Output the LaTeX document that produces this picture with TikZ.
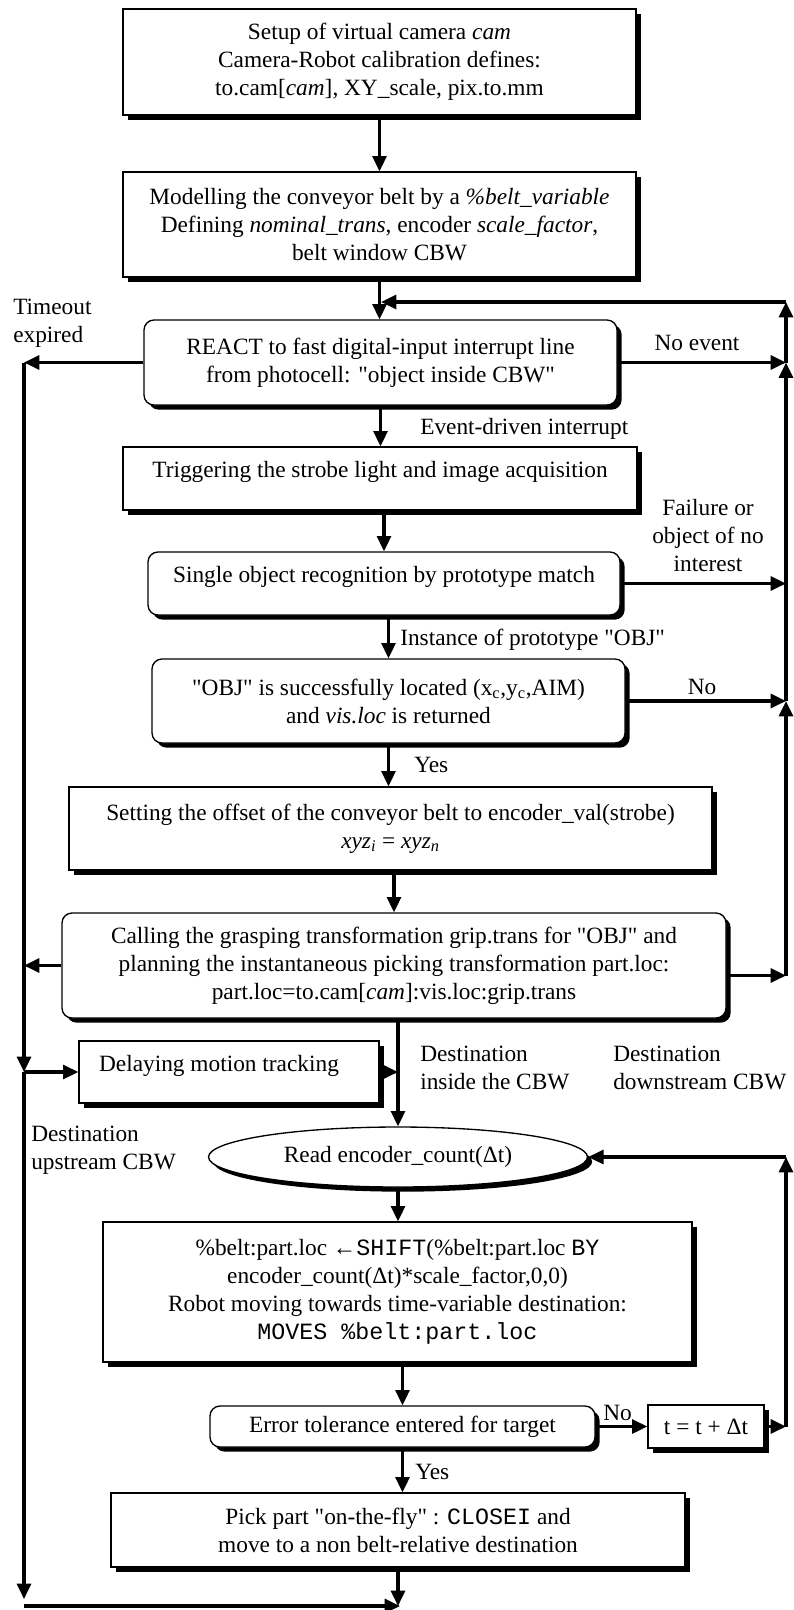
\documentclass[tikz,border=0pt]{standalone}
\usepackage{fontspec}
\setmainfont{Liberation Serif}[Ligatures=TeXOff]
\setmonofont{Liberation Mono}
\usetikzlibrary{arrows.meta,shapes.geometric,shadows}
\tikzset{
  flowbox/.style={draw, fill=white, line width=1pt, align=center, inner sep=0pt,
                  drop shadow={shadow xshift=3.5pt, shadow yshift=-3.5pt, fill=black, opacity=1}},
  roundbox/.style={flowbox, rounded corners=7.5pt},
  readbox/.style={flowbox, ellipse},
  raised/.style={text depth=13pt},
  flow/.style={-{Triangle[length=11.5pt,width=10.5pt]}, line width=2.3pt},
  note/.style={inner sep=0pt, align=left}
}

\begin{document}
\begin{tikzpicture}[x=0.75pt, y=-0.75pt, font=\fontsize{17.5}{21}\selectfont]
  \useasboundingbox (0,0) rectangle (793,1610);
  \coordinate (lrail) at (24,0);
  \coordinate (rrail) at (786,0);
  \coordinate (join) at (381,302);

  % main chain
  \node[flowbox, minimum width=384.75pt, minimum height=79.5pt] (setup) at (379.5,62)
    {Setup of virtual camera \textit{cam}\\Camera-Robot calibration defines:\\to.cam[\textit{cam}], XY\_scale, pix.to.mm};
  \node[flowbox, minimum width=384.75pt, minimum height=78.75pt] (belt) at (379.5,224.5)
    {Modelling the conveyor belt by a \textit{\%belt\_variable}\\Defining \textit{nominal\_trans}, encoder \textit{scale\_factor},\\belt window CBW};
  \node[roundbox, minimum width=354.75pt, minimum height=63.75pt] (react) at (380.5,362.5)
    {REACT to fast digital-input interrupt line\\from photocell: "object inside CBW"};
  \node[flowbox, raised, minimum width=385.5pt, minimum height=47.25pt] (trigger) at (380,478.5)
    {Triggering the strobe light and image acquisition};
  \node[roundbox, raised, minimum width=354pt, minimum height=47.25pt] (recog) at (384,583.5)
    {Single object recognition by prototype match};
  \node[roundbox, minimum width=354.75pt, minimum height=63pt] (located) at (388.5,701)
    {"OBJ" is successfully located (x\textsubscript{c},y\textsubscript{c},AIM)\\and \textit{vis.loc} is returned};
  \node[flowbox, minimum width=482.25pt, minimum height=62.25pt] (offset) at (390.5,828.5)
    {Setting the offset of the conveyor belt to encoder\_val(strobe)\\\textit{xyz\textsubscript{i}} = \textit{xyz\textsubscript{n}}};
  \node[roundbox, minimum width=498pt, minimum height=78.75pt] (grasp) at (394,965.5)
    {Calling the grasping transformation grip.trans for "OBJ" and\\planning the instantaneous picking transformation part.loc:\\part.loc=to.cam[\textit{cam}]:vis.loc:grip.trans};
  \node[flowbox, raised, minimum width=225pt, minimum height=46.5pt] (delay) at (229,1072)
    {Delaying motion tracking\hspace{15pt}};
  \node[readbox, minimum width=284.25pt, minimum height=45pt] (read) at (398,1157)
    {Read encoder\_count(Δt)};
  \node[flowbox, minimum width=441.75pt, minimum height=105pt] (shift) at (397.5,1292)
    {\%belt:part.loc ←\texttt{SHIFT}(\%belt:part.loc \texttt{BY}\\encoder\_count(Δt)*scale\_factor,0,0)\\Robot moving towards time-variable destination:\\\texttt{MOVES \%belt:part.loc}};
  \node[roundbox, minimum width=288.75pt, minimum height=30.75pt] (tol) at (402.5,1426.5)
    {Error tolerance entered for target};
  \node[flowbox, minimum width=87pt, minimum height=32.25pt] (incr) at (706,1426.5)
    {t = t + Δt};
  \node[flowbox, minimum width=430.5pt, minimum height=55.5pt] (pick) at (398,1530)
    {Pick part "on-the-fly" : \texttt{CLOSEI} and\\move to a non belt-relative destination};

  \coordinate (gout) at ([yshift=-7.5pt]grasp.east);
  \coordinate (lend) at (24,1599);
  \coordinate (lfloor) at (24,1606);
  \coordinate (floor) at (400,1606);

  % labels
  \node[note, anchor=west] (timeout) at (13,323) {Timeout\\expired};
  \node[note] (noevent) at (697,343) {No event};
  \node[note, anchor=west] (eventlbl) at (420,429) {Event-driven interrupt};
  \node[note, align=center] (failure) at (708,536) {Failure or\\object of no\\interest};
  \node[note, anchor=west] (instlbl) at (400,640) {Instance of prototype "OBJ"};
  \node[note] (nolbl) at (702,687) {No};
  \node[note, anchor=west] (yeslbl) at (414,765) {Yes};
  \node[note, anchor=west] (inside) at (420,1068) {Destination\\inside the CBW};
  \node[note, anchor=west] (downstream) at (613,1068) {Destination\\downstream CBW};
  \node[note, anchor=west] (upstream) at (31,1150) {Destination\\upstream CBW};
  \node[note, anchor=west] (tolno) at (603,1413) {No};
  \node[note, anchor=west] (tolyes) at (415,1472) {Yes};

  % straight flow
  \draw[flow] (setup) -- (belt);
  \draw[flow] (belt) -- (belt |- react.north);
  \draw[flow] (react) -- (react |- trigger.north);
  \draw[flow] (recog.north |- trigger.south) -- (recog.north);
  \draw[flow] (located.north |- recog.south) -- (located.north);
  \draw[flow] (located) -- (located |- offset.north);
  \draw[flow] (grasp.north |- offset.south) -- (grasp.north);
  \draw[flow] (read.north |- grasp.south) -- (read.north);
  \draw[flow] (delay.east) -- (delay.east -| read.north);
  \draw[flow] (read) -- (read |- shift.north);
  \draw[flow] (tol.north |- shift.south) -- (tol.north);
  \draw[flow] (tol) -- (incr);
  \draw[flow] (tol) -- (tol |- pick.north);
  \draw[flow] (pick) -- (pick |- floor);

  % left rail
  \draw[flow] (react.west) -- (react.west -| lrail);
  \draw[flow] (react.west -| lrail) -- (delay.west -| lrail);
  \draw[flow] (grasp.west) -- (grasp.west -| lrail);
  \draw[flow] (delay.west -| lrail) -- (delay.west);
  \draw[flow] (delay.west -| lrail) -- (lend);
  \draw[flow] (lfloor) -- (floor);

  % right rail
  \draw[flow] (react.east) -- (react.east -| rrail);
  \draw[flow] (recog.east) -- (recog.east -| rrail);
  \draw[flow] (located.east) -- (located.east -| rrail);
  \draw[flow] (gout) -- (gout -| rrail);
  \draw[flow] (gout -| rrail) -- (located.east -| rrail);
  \draw[flow] (located.east -| rrail) -- (react.east -| rrail);
  \draw[flow] (react.east -| rrail) -- (rrail |- join);
  \draw[flow] (rrail |- join) -- (join);
  \draw[flow] (incr.east) -- (incr.east -| rrail);
  \draw[flow] (incr.east -| rrail) -- (rrail |- read.east);
  \draw[flow] (rrail |- read.east) -- (read.east);
\end{tikzpicture}
\end{document}
